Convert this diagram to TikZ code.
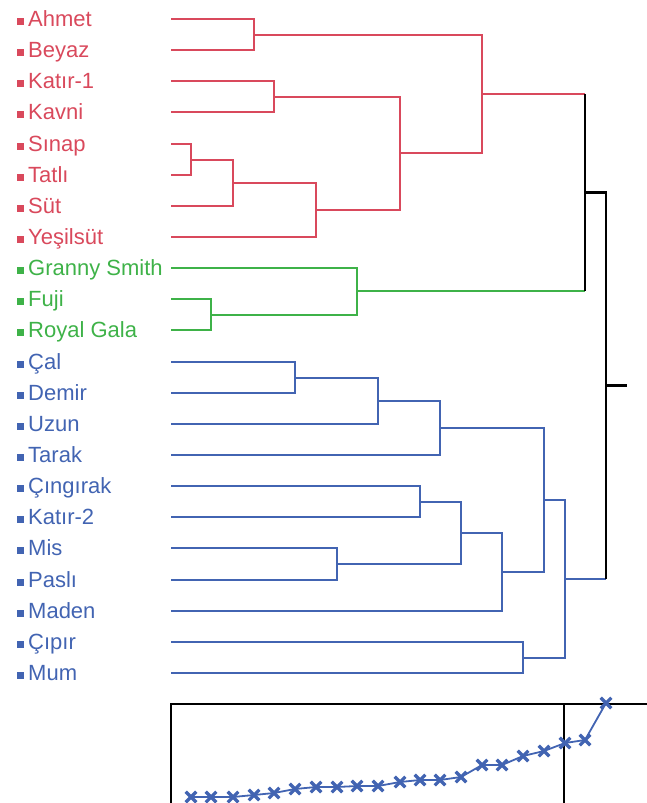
\documentclass[tikz,border=0pt]{standalone}
\usepackage{fontspec}
\setmainfont{Liberation Sans}
\usepackage{xcolor}
\usepackage{tikz}
\usetikzlibrary{positioning,%
  calc%
}
\definecolor{cultred}{RGB}{217,73,92}
\definecolor{introgreen}{RGB}{62,178,72}
\definecolor{localblue}{RGB}{66,100,178}

% one U-shaped join: name, height, first child, second child, colour
\newcommand\mergeat[5]{%
  \path ($(#3)!.5!(#4)$) coordinate (#1mid);
  \coordinate (#1) at (#2,0 |- #1mid);
  \draw[branch,#5] (#3) -| (#1) |- (#4);}

\begin{document}
\begin{tikzpicture}[x=1pt,y=-1pt,
    font=\fontsize{22}{24}\selectfont,
    branch/.style={line width=2pt},
    trunk/.style={line width=2.4pt,black},
    leaflabel/.style={anchor=base west,inner sep=0pt}]
  \useasboundingbox (0,0) rectangle (647,803);

  % leaves
  \foreach \n/\t/\c [count=\i from 0] in {ahmet/Ahmet/cultred,beyaz/Beyaz/cultred,
      katira/Katır-1/cultred,kavni/Kavni/cultred,sinap/Sınap/cultred,tatli/Tatlı/cultred,
      sut/Süt/cultred,yesilsut/Yeşilsüt/cultred,granny/Granny Smith/introgreen,
      fuji/Fuji/introgreen,royal/Royal Gala/introgreen,cal/Çal/localblue,
      demir/Demir/localblue,uzun/Uzun/localblue,tarak/Tarak/localblue,
      cingirak/Çıngırak/localblue,katirb/Katır-2/localblue,mis/Mis/localblue,
      pasli/Paslı/localblue,maden/Maden/localblue,cipir/Çıpır/localblue,mum/Mum/localblue}{
    \pgfmathsetmacro\rowy{round(19+\i*31.14)}
    \coordinate (\n) at (171,\rowy);
    \fill[\c] (17,\rowy-1.5) rectangle ++(7,7);
    \node[leaflabel,text=\c] (l\n) at (28,\rowy+7.8) {\t};
  }

  % red group
  \mergeat{ab}{254}{ahmet}{beyaz}{cultred}
  \mergeat{kk}{274}{katira}{kavni}{cultred}
  \mergeat{st}{191}{sinap}{tatli}{cultred}
  \mergeat{sts}{233}{st}{sut}{cultred}
  \mergeat{sty}{316}{sts}{yesilsut}{cultred}
  \mergeat{kks}{400}{kk}{sty}{cultred}
  \mergeat{red}{482}{ab}{kks}{cultred}

  % green group
  \mergeat{fr}{211}{fuji}{royal}{introgreen}
  \mergeat{green}{357}{granny}{fr}{introgreen}

  % blue group
  \mergeat{cd}{295}{cal}{demir}{localblue}
  \mergeat{cdu}{378}{cd}{uzun}{localblue}
  \mergeat{cdut}{440}{cdu}{tarak}{localblue}
  \mergeat{ck}{420}{cingirak}{katirb}{localblue}
  \mergeat{mp}{337}{mis}{pasli}{localblue}
  \mergeat{ckmp}{461}{ck}{mp}{localblue}
  \mergeat{ckmpm}{502}{ckmp}{maden}{localblue}
  \mergeat{left}{544}{cdut}{ckmpm}{localblue}
  \mergeat{cm}{523}{cipir}{mum}{localblue}
  \mergeat{blue}{565}{left}{cm}{localblue}

  % top joins
  \draw[branch,cultred] (red) -- (585,0 |- red) coordinate (redend);
  \draw[branch,introgreen] (green) -- (585,0 |- green) coordinate (greenend);
  \draw[branch,localblue] (blue) -- (606,0 |- blue) coordinate (blueend);
  \path ($(redend)!.5!(greenend)$) coordinate (rg);
  \draw[trunk] (redend) -- (greenend);
  \path ($(rg)!.5!(blueend)$) coordinate (topmid);
  \coordinate (top) at (606,0 |- topmid);
  \draw[trunk] (rg) -| (top) |- (blueend);
  \draw[trunk] (top) -- (627,0 |- top) coordinate (rootend);

  % scree of join heights
  \draw[trunk] (171,803) |- (647,704);
  \draw[trunk] (564,704) -- (564,803);
  \draw[localblue,line width=1.8pt,mark=x,mark size=7.5pt,
      mark options={line width=3.2pt}] plot coordinates {
    (191,797) (211,797) (233,797) (254,795) (274,793) (295,789)
    (316,787) (337,787) (357,786) (378,786) (400,782) (420,780)
    (440,780) (461,777) (482,765) (502,765) (523,756) (544,751)
    (565,743) (585,740) (606,703)};
\end{tikzpicture}
\end{document}
